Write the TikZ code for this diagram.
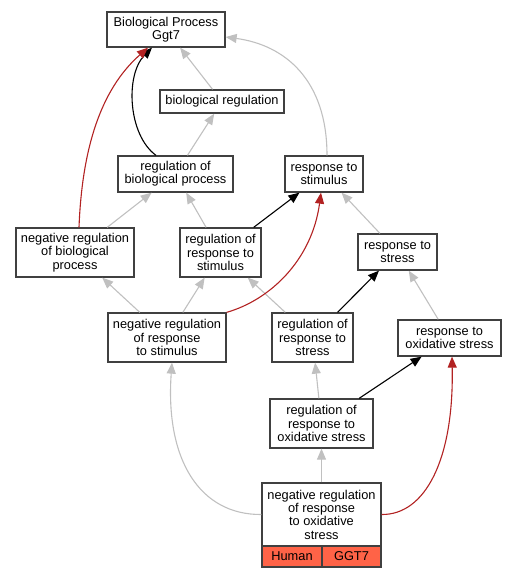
\documentclass[tikz,border=0pt]{standalone}
\usepackage{fontspec}
\setmainfont{Liberation Sans}
\usetikzlibrary{arrows.meta}

\definecolor{edgegray}{HTML}{C0C0C0}
\definecolor{edgered}{HTML}{B22222}
\definecolor{tomato}{HTML}{FF6347}

\tikzset{
  term/.style={draw=black!75, line width=1.3pt, fill=white, align=center,
    inner sep=0pt, font=\fontsize{12.8}{13.3}\selectfont},
  cell/.style={term, fill=tomato},
  isa/.style={draw=edgegray, line width=1.1pt, -{Triangle[length=11pt,width=9pt]}},
  regs/.style={draw=black, line width=1.1pt, -{Triangle[length=11pt,width=9pt]}},
  negregs/.style={draw=edgered, line width=1.1pt, -{Triangle[length=11pt,width=9pt]}},
}

\begin{document}
\begin{tikzpicture}[x=1pt, y=-1pt]
  \useasboundingbox (0,0) rectangle (516,579);

  % Terms
  \node[term, minimum width=118pt, minimum height=35pt] (bp) at (166,29.5) {Biological Process\\Ggt7};
  \node[term, minimum width=124pt, minimum height=23pt] (breg) at (222,101.5) {biological regulation};
  \node[term, minimum width=115pt, minimum height=36pt] (rbp) at (175.5,174) {regulation of\\biological process};
  \node[term, minimum width=78pt, minimum height=36pt] (rstim) at (324,174) {response to\\stimulus};
  \node[term, minimum width=118pt, minimum height=49pt] (nrbp) at (75,252.5) {negative regulation\\of biological\\process};
  \node[term, minimum width=81pt, minimum height=49pt] (rrstim) at (220.5,252.5) {regulation of\\response to\\stimulus};
  \node[term, minimum width=79pt, minimum height=36pt] (rstress) at (397.5,252) {response to\\stress};
  \node[term, minimum width=118pt, minimum height=49pt] (nrrstim) at (167,337.5) {negative regulation\\of response\\to stimulus};
  \node[term, minimum width=81pt, minimum height=49pt] (rrstress) at (312.5,337.5) {regulation of\\response to\\stress};
  \node[term, minimum width=103pt, minimum height=36pt] (roxs) at (449.5,338) {response to\\oxidative stress};
  \node[term, minimum width=103pt, minimum height=49pt] (rroxs) at (321.5,423.5) {regulation of\\response to\\oxidative stress};
  \node[term, minimum width=119pt, minimum height=63pt] (nrroxs) at (321.5,514.5) {negative regulation\\of response\\to oxidative\\stress};
  \node[cell, minimum width=60pt, minimum height=21pt] (human) at (292,556.5) {Human};
  \node[cell, minimum width=59pt, minimum height=21pt] (ggt) at (351.5,556.5) {GGT7};

  % is_a
  \draw[isa] (breg) -- (bp);
  \draw[isa] (rbp) -- (breg);
  \draw[isa] (nrbp) -- (rbp);
  \draw[isa] (rrstim) -- (rbp);
  \draw[isa] (rstress) -- (rstim);
  \draw[isa] (nrrstim) -- (nrbp);
  \draw[isa] (nrrstim) -- (rrstim);
  \draw[isa] (rrstress) -- (rrstim);
  \draw[isa] (roxs) -- (rstress);
  \draw[isa] (rroxs) -- (rrstress);
  \draw[isa] (nrroxs) -- (rroxs);
  \draw[isa] ([xshift=3pt]rstim.north) .. controls (327,80) and (285,45) .. ([yshift=-7.5pt]bp.east);
  \draw[isa] (nrroxs.west) .. controls (200,515) and (165,460) .. ([xshift=5pt]nrrstim.south);

  % regulates
  \draw[regs] (rrstim) -- (rstim);
  \draw[regs] (rrstress) -- (rstress);
  \draw[regs] (rroxs) -- (roxs);
  \draw[regs] ([xshift=-19.5pt]rbp.north) .. controls (128,135) and (125,75) .. ([xshift=-14pt]bp.south);

  % negatively regulates
  \draw[negregs] ([xshift=4pt]nrbp.north) .. controls (82,150) and (100,90) .. ([xshift=-18pt]bp.south);
  \draw[negregs] (nrrstim.north east) .. controls (270,300) and (312,260) .. ([xshift=-3pt]rstim.south);
  \draw[negregs] (nrroxs.east) .. controls (425,515) and (454,460) .. ([xshift=2.5pt]roxs.south);
\end{tikzpicture}
\end{document}
